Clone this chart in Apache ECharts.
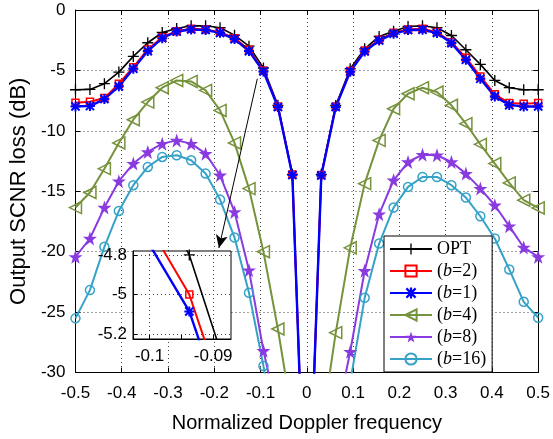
<!DOCTYPE html>
<html>
<head>
<meta charset="utf-8">
<script src="https://cdn.jsdelivr.net/npm/echarts@6/dist/echarts.min.js"></script>
<style>html,body{margin:0;padding:0;background:#fff}#c{width:553px;height:439px}</style>
</head>
<body>
<div id="c"></div>
<script>
// ---- data ----
const freq = [-0.5,-0.46875,-0.4375,-0.40625,-0.375,-0.34375,-0.3125,-0.28125,-0.25,-0.21875,-0.1875,-0.15625,-0.125,-0.09375,-0.0625,-0.03125,0,0.03125,0.0625,0.09375,0.125,0.15625,0.1875,0.21875,0.25,0.28125,0.3125,0.34375,0.375,0.40625,0.4375,0.46875,0.5];
const optLoss = [-6.6,-6.57,-6.1,-5.14,-3.84,-2.71,-1.86,-1.53,-1.31,-1.31,-1.47,-2.08,-2.99,-4.8,-7.89,-13.6,-47,-13.6,-7.9,-4.86,-3.21,-2.19,-1.75,-1.36,-1.31,-1.47,-2.11,-3.29,-4.5,-5.83,-6.43,-6.6,-6.6];
const b2Loss = [-7.67,-7.6,-7.29,-6.1,-4.73,-3.26,-2.25,-1.75,-1.56,-1.61,-1.83,-2.33,-3.29,-5.0,-7.98,-13.62,-47,-13.65,-7.98,-5.05,-3.35,-2.46,-1.89,-1.61,-1.56,-1.83,-2.66,-3.95,-5.5,-6.98,-7.7,-7.76,-7.7];
const b1Loss = [-7.98,-7.95,-7.37,-6.32,-4.86,-3.4,-2.33,-1.78,-1.61,-1.66,-1.89,-2.41,-3.4,-5.085,-8.03,-13.66,-47,-13.7,-8.03,-5.1,-3.43,-2.53,-1.96,-1.66,-1.64,-1.9,-2.74,-4.12,-5.69,-7.15,-7.87,-7.98,-7.98];
const b4Loss = [-16.35,-15.1,-13.13,-11.0,-9.08,-7.62,-6.43,-5.83,-5.91,-6.65,-8.31,-11.0,-14.78,-20.0,-26.4,-33.7,-60,-34.8,-26.7,-19.68,-14.37,-10.79,-8.17,-6.93,-6.43,-6.79,-7.89,-9.41,-11.12,-12.71,-14.31,-15.74,-16.38];
const b8Loss = [-20.43,-18.91,-16.35,-14.17,-12.71,-11.75,-11.06,-10.79,-11.06,-11.89,-13.68,-16.71,-21.53,-28.2,-33.5,-45,-60,-45,-34.1,-28.28,-21.58,-16.9,-14.09,-12.58,-11.97,-12.02,-12.58,-13.54,-14.78,-16.16,-17.89,-19.65,-20.43];
const b16Loss = [-25.52,-23.18,-19.6,-16.63,-14.5,-12.99,-12.16,-12.02,-12.44,-13.54,-15.69,-18.83,-23.4,-29.46,-36,-45,-60,-45,-38,-30.8,-23.82,-19.33,-16.35,-14.64,-13.82,-13.82,-14.5,-15.52,-17.07,-18.91,-21.47,-24.15,-25.47];
const seriesNames = ['OPT','(b=2)','(b=1)','(b=4)','(b=8)','(b=16)'];
const insetXTicks = [-0.1,-0.095,-0.09];
const insetXLabels = [-0.1,-0.09];
const insetYTicks = [-5.2,-5,-4.8];
const arrowStart = [-0.107,-5.69];
const arrowEnd = [-0.19,-19.7];

// ---- styling ----
const plusPath = 'path://M4.4,0H5.6V4.4H10V5.6H5.6V10H4.4V5.6H0V4.4H4.4Z';
const asteriskPath = 'path://M4,0H6V10H4Z M0,4H10V6H0Z M1.6,0.2L9.8,8.4L8.4,9.8L0.2,1.6Z M8.4,0.2L9.8,1.6L1.6,9.8L0.2,8.4Z';
const starPath = 'path://M50,0L61.8,35.1L98.9,35.1L68.9,57.3L79.4,92.7L50,71.4L20.6,92.7L31.1,57.3L1.1,35.1L38.2,35.1Z';
const leftTriPath = 'path://M0,5L9,0L9,10Z';
const sans = 'Liberation Sans, Arial, sans-serif';
const serif = 'Liberation Serif, Times New Roman, serif';

const specs = [
  {name: seriesNames[0], data: optLoss, color: '#000000', symbol: plusPath, size: 11, lw: 1.6},
  {name: seriesNames[1], data: b2Loss, color: '#ff0000', symbol: 'rect', size: 7, lw: 2, open: true},
  {name: seriesNames[2], data: b1Loss, color: '#0000ff', symbol: asteriskPath, size: 10, lw: 2.4},
  {name: seriesNames[3], data: b4Loss, color: '#76923c', symbol: leftTriPath, size: 12, lw: 2, open: true},
  {name: seriesNames[4], data: b8Loss, color: '#8a3be0', symbol: starPath, size: 14, lw: 2},
  {name: seriesNames[5], data: b16Loss, color: '#36a2c8', symbol: 'circle', size: 9, lw: 2, open: true}
];

function pairs(ys) { return freq.map((x, i) => [x, ys[i]]); }

function makeSeries(s, xi, yi, z) {
  return {
    type: 'line', name: s.name, xAxisIndex: xi, yAxisIndex: yi, z: z,
    data: pairs(s.data), clip: true, animation: false,
    symbol: s.symbol, symbolSize: s.size, showAllSymbol: true,
    itemStyle: s.open ? {color: 'rgba(255,255,255,0)', borderColor: s.color, borderWidth: 1.5}
                      : {color: s.color},
    lineStyle: {color: s.color, width: s.lw},
    emphasis: {disabled: true}
  };
}

const series = [];
specs.forEach(s => series.push(makeSeries(s, 0, 0, 2)));
// arrow annotation
series[0].markLine = {
  silent: true, symbol: ['none', 'arrow'], symbolSize: [9, 13], z: 12,
  label: {show: false},
  lineStyle: {color: '#000', width: 1, type: 'solid'},
  data: [[{coord: arrowStart}, {coord: arrowEnd}]]
};
// inset grid lines
series.push({
  type: 'line', xAxisIndex: 2, yAxisIndex: 2, data: [], z: 4, silent: true,
  markLine: {
    silent: true, symbol: 'none', z: 4, label: {show: false},
    lineStyle: {color: '#444', width: 1, type: [1, 3]},
    data: insetXTicks.map(v => ({xAxis: v})).concat(insetYTicks.map(v => ({yAxis: v})))
  }
});
specs.slice(0, 3).forEach(s => series.push(makeSeries(s, 2, 2, 6)));

const fmt = v => String(parseFloat(Number(v).toFixed(4)));

const gridLine = {show: true, lineStyle: {color: '#444', width: 1, type: [1, 3]}};
const axisLineBlack = {show: true, onZero: false, lineStyle: {color: '#000', width: 1}};
const tickIn = {show: true, inside: true, length: 5, lineStyle: {color: '#000', width: 1}};
const lbl = {color: '#000', fontFamily: sans, fontSize: 17};

const option = {
  animation: false,
  backgroundColor: '#fff',
  grid: [
    {left: 67, top: 10, right: 12, bottom: 66.5, show: false},
    {left: 133, top: 251, width: 98, height: 88, show: true, backgroundColor: '#fff', borderColor: '#000', borderWidth: 1, z: 3}
  ],
  xAxis: [
    {type: 'value', gridIndex: 0, position: 'bottom', min: -0.5, max: 0.5, interval: 0.1,
     axisLine: axisLineBlack, axisTick: tickIn,
     axisLabel: Object.assign({margin: 12, formatter: fmt}, lbl),
     splitLine: gridLine,
     name: 'Normalized Doppler frequency', nameLocation: 'middle', nameGap: 41,
     nameTextStyle: {color: '#000', fontFamily: sans, fontSize: 20}},
    {type: 'value', gridIndex: 0, position: 'top', min: -0.5, max: 0.5, interval: 0.1,
     axisLine: axisLineBlack, axisTick: tickIn, axisLabel: {show: false}, splitLine: {show: false}},
    {type: 'value', gridIndex: 1, position: 'bottom', min: -0.1026, max: -0.0872, z: 5,
     axisLine: axisLineBlack,
     axisTick: {show: true, inside: true, length: 4, customValues: insetXTicks, lineStyle: {color: '#000'}},
     axisLabel: Object.assign({margin: 9, customValues: insetXLabels, formatter: fmt}, lbl),
     splitLine: {show: false}}
  ],
  yAxis: [
    {type: 'value', gridIndex: 0, position: 'left', min: -30, max: 0, interval: 5,
     axisLine: axisLineBlack, axisTick: tickIn,
     axisLabel: Object.assign({margin: 10, formatter: fmt}, lbl),
     splitLine: gridLine,
     name: 'Output SCNR loss (dB)', nameLocation: 'middle', nameGap: 40, nameRotate: 90,
     nameTextStyle: {color: '#000', fontFamily: sans, fontSize: 22}},
    {type: 'value', gridIndex: 0, position: 'right', min: -30, max: 0, interval: 5,
     axisLine: axisLineBlack, axisTick: tickIn, axisLabel: {show: false}, splitLine: {show: false}},
    {type: 'value', gridIndex: 1, position: 'left', min: -5.224, max: -4.78, z: 5,
     axisLine: axisLineBlack,
     axisTick: {show: true, inside: true, length: 4, customValues: insetYTicks, lineStyle: {color: '#000'}},
     axisLabel: Object.assign({margin: 6, customValues: insetYTicks, formatter: fmt}, lbl),
     splitLine: {show: false}}
  ],
  legend: {
    show: true, orient: 'vertical', left: 384, top: 236,
    data: seriesNames, selectedMode: false,
    itemWidth: 42, itemHeight: 14, itemGap: 4,
    padding: [4, 6, 4, 5],
    backgroundColor: '#fff', borderColor: '#000', borderWidth: 1, borderRadius: 0,
    textStyle: {color: '#000', fontFamily: serif, fontSize: 18, lineHeight: 18,
      rich: {i: {fontStyle: 'italic', fontFamily: serif, fontSize: 18, lineHeight: 18, color: '#000'}}},
    formatter: name => name.replace('b', '{i|b}'),
    z: 10
  },
  series: series
};

const chart = echarts.init(document.getElementById('c'), null, {renderer: 'canvas'});
chart.setOption(option);
</script>
</body>
</html>
